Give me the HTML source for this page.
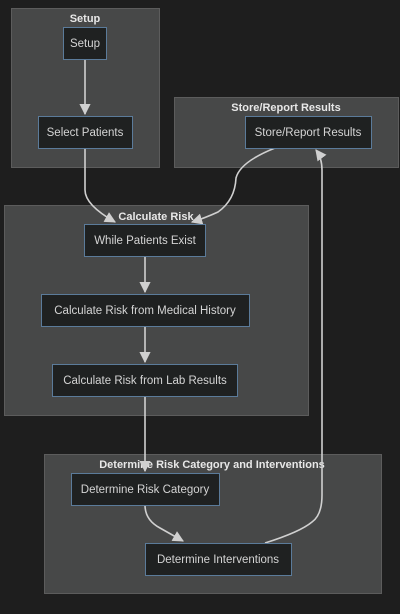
<!DOCTYPE html>
<html><head><meta charset="utf-8"><style>
html,body{margin:0;padding:0;background:#1e1e1e;}
svg{display:block;}
text{font-family:"Liberation Sans",sans-serif;}
.c{fill:#474848;stroke:#5c5c5c;stroke-width:1;}
.ct{fill:#e8e8e8;font-size:11px;font-weight:bold;text-anchor:middle;}
.n{fill:#1f2121;stroke:#5b7b9a;stroke-width:1;}
.nt{fill:#d4d4d4;font-size:11.5px;text-anchor:middle;}
.e{fill:none;stroke:#d0d0d0;stroke-width:1.6;}
</style></head><body>
<svg width="400" height="614" viewBox="0 0 400 614">
<defs><marker id="a" viewBox="0 0 10 10" refX="9" refY="5" markerWidth="7" markerHeight="7" orient="auto-start-reverse"><path d="M0,0L10,5L0,10z" fill="#d0d0d0"/></marker></defs>
<rect class="c" x="11.5" y="8.5" width="148" height="159"/>
<text class="ct" x="85" y="22">Setup</text>
<rect class="c" x="174.5" y="97.5" width="224" height="70"/>
<text class="ct" x="286" y="111">Store/Report Results</text>
<rect class="c" x="4.5" y="205.5" width="304" height="210"/>
<text class="ct" x="156" y="220">Calculate Risk</text>
<rect class="c" x="44.5" y="454.5" width="337" height="139"/>
<text class="ct" x="212" y="468">Determine Risk Category and Interventions</text>

<path class="e" d="M85,59 V114" marker-end="url(#a)"/>
<path class="e" d="M85,148 V190 Q85,205 115,222" marker-end="url(#a)"/>
<path class="e" d="M275,148 Q240,162 236,178 Q235,200 218,212 Q205,218 192,222" marker-end="url(#a)"/>
<path class="e" d="M145,256 V292" marker-end="url(#a)"/>
<path class="e" d="M145,326 V362" marker-end="url(#a)"/>
<path class="e" d="M145,396 V471" marker-end="url(#a)"/>
<path class="e" d="M145,505 Q145,520 160,528 L183,541" marker-end="url(#a)"/>
<path class="e" d="M265,543 Q300,532 312,522 Q322,515 322,495 V170 Q322,158 316,150" marker-end="url(#a)"/>

<rect class="n" x="63.5" y="27.5" width="43" height="32"/>
<text class="nt" x="85" y="47">Setup</text>
<rect class="n" x="38.5" y="116.5" width="94" height="32"/>
<text class="nt" x="85" y="136">Select Patients</text>
<rect class="n" x="245.5" y="116.5" width="126" height="32"/>
<text class="nt" x="308" y="136">Store/Report Results</text>
<rect class="n" x="84.5" y="224.5" width="121" height="32"/>
<text class="nt" x="145" y="244">While Patients Exist</text>
<rect class="n" x="41.5" y="294.5" width="208" height="32"/>
<text class="nt" x="145" y="314">Calculate Risk from Medical History</text>
<rect class="n" x="52.5" y="364.5" width="185" height="32"/>
<text class="nt" x="145" y="384">Calculate Risk from Lab Results</text>
<rect class="n" x="71.5" y="473.5" width="148" height="32"/>
<text class="nt" x="145" y="493">Determine Risk Category</text>
<rect class="n" x="145.5" y="543.5" width="146" height="32"/>
<text class="nt" x="218" y="563">Determine Interventions</text>
</svg>
</body></html>
